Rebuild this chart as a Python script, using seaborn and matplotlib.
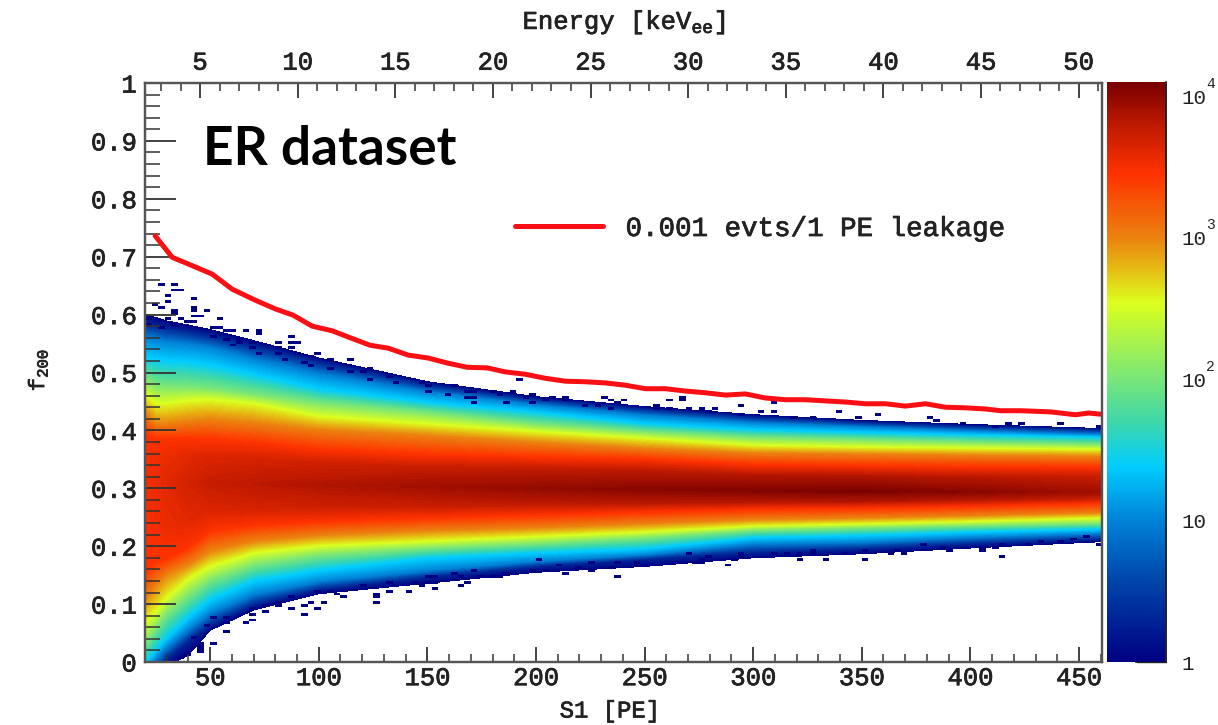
import numpy as np
import matplotlib
matplotlib.use("Agg")
import matplotlib.pyplot as plt
import matplotlib.patheffects as pe
import seaborn as sns
from matplotlib.colors import LinearSegmentedColormap, LogNorm, Normalize
from matplotlib.cm import ScalarMappable
from matplotlib.ticker import FixedLocator, NullFormatter

# ---- data ----
s1_knots = [20, 25, 30, 40, 50, 70, 100, 150, 200, 250, 300, 350, 400, 460]
# f200 position of each log10(count) contour at each S1 knot, bottom to top
lo_edge  = [-.07,-.04,-.008,.012,.055,.09,.118,.136,.155,.165,.18,.187,.197,.208]
lo_0p3   = [-.05,-.02,.006,.038,.065,.10,.126,.147,.165,.178,.19,.196,.205,.213]
lo_1p0   = [-.02,.008,.027,.058,.086,.118,.14,.159,.175,.186,.205,.208,.216,.223]
lo_1p4   = [.0,.022,.044,.08,.11,.142,.16,.181,.19,.197,.216,.22,.226,.231]
lo_2p0   = [.03,.06,.085,.116,.142,.168,.185,.197,.205,.215,.228,.232,.236,.24]
lo_2p54  = [.07,.09,.113,.146,.167,.19,.202,.21,.218,.226,.236,.24,.244,.25]
lo_3p0   = [.11,.135,.153,.17,.193,.21,.22,.228,.233,.24,.247,.25,.254,.259]
lo_3p45  = [.16,.176,.18,.2,.228,.238,.244,.25,.255,.26,.265,.267,.27,.275]
lo_shldr = [.22,.23,.232,.244,.261,.265,.268,.271,.273,.275,.277,.278,.28,.283]
peak_f   = [.31,.31,.31,.31,.31,.308,.305,.303,.30,.298,.296,.295,.294,.294]
up_shldr = [.358,.355,.355,.355,.354,.35,.342,.335,.332,.329,.322,.32,.319,.319]
up_3p45  = [.39,.385,.385,.385,.383,.378,.366,.357,.353,.349,.34,.338,.336,.335]
up_3p0   = [.43,.41,.41,.415,.418,.412,.40,.39,.378,.368,.36,.358,.356,.354]
up_2p54  = [.46,.445,.445,.45,.452,.445,.423,.41,.397,.385,.373,.37,.368,.366]
up_2p0   = [.49,.478,.476,.475,.472,.462,.447,.43,.41,.397,.387,.383,.379,.375]
up_1p4   = [.525,.52,.518,.516,.511,.495,.47,.447,.43,.41,.40,.395,.391,.387]
up_1p0   = [.56,.556,.552,.548,.542,.522,.497,.465,.443,.425,.412,.405,.398,.392]
up_0p3   = [.585,.58,.576,.57,.563,.545,.517,.478,.453,.436,.422,.413,.406,.40]
up_edge  = [.60,.595,.589,.582,.574,.555,.525,.484,.458,.441,.427,.417,.41,.403]
# log10(count) along the ridge and its shoulders
peak_log  = [3.5,3.55,3.6,3.68,3.75,3.8,3.85,3.92,3.98,4.02,4.05,4.08,4.02,3.92]
shldr_log = [3.48,3.51,3.55,3.6,3.64,3.67,3.71,3.75,3.78,3.81,3.83,3.85,3.81,3.75]

# isolated low-count cells beyond the solid band
speck_s1 = [28.5,34.5,32,35,31.5,31.5,41,24,28.5,33,43,48,41,34.5,31,41,46,55,61.5,67.5,73.5,71,86,82,88,91.5,69,88,80.5,
            113,124.5,104,98,91.5,163.6,193.5,168,172,190.5,199.7,181.7,194.3,208,214.3,232.7,241.9,214.3,235.8,268.8,
            262.6,268.8,255.7,255.7,262.6,234,223.5,169.7,170,283.4,295.7,310,338,309,327,302,
            46,46,46,46,52,58.4,40,67,70,74,68.4,94.5,88.4,92.2,100.7,97.6,103.7,125,125,125,140,
            238.8,214.3,218,179,182.8,175,187.4,169.7,166.7,152.8,148.2,154.4,199.7,205.8,226.5,235.8,253.4,247.3,264.2,
            274.9,238.8,166.7,163.6,151.3,287,321,332,350,413,314,341,362,389,410,404,404,460,322.5,328.7,368,308,277,291,295.7]
speck_f  = [.654,.654,.642,.642,.634,.622,.625,.618,.614,.608,.611,.608,.608,.603,.592,.596,.598,.592,.572,.572,.572,.566,.562,.553,.553,.553,.553,.543,.543,
            .523,.507,.521,.530,.530,.477,.487,.467,.467,.467,.464,.47,.459,.459,.459,.459,.454,.45,.454,.459,
            .454,.45,.444,.438,.439,.439,.444,.455,.447,.439,.444,.448,.434,.43,.424,.432,
            .032,.027,.022,.017,.032,.052,.012,.067,.072,.087,.081,.081,.093,.097,.093,.102,.102,.102,.116,.111,.121,
            .147,.153,.162,.147,.147,.147,.15,.137,.131,.126,.131,.139,.156,.159,.159,.163,.165,.168,.173,
            .174,.17,.145,.153,.145,.168,.177,.177,.177,.182,.185,.188,.188,.192,.197,.199,.194,.203,.188,.189,.189,.189,.173,.176,.182]
# cells forming the jagged rim of the band
rim_s1 = [22.4,22.4,28.5,33.1,37.7,40.8,43.9,51.5,54.6,57.7,51.5,56.1,63.8,64.6,59.2,68.4,73.8,81.5,83,91.5,97.6,92.2,97.6,105.3,113,119.1,123.7,131.4,136,146,149,
          36.2,42.3,48.5,51.5,57.7,57.7,68.4,74.6,80.7,82.2,86.8,100.7,105.3,108.3,111.4,119.1,131.4,131.4,143.7,149.8,
          278,295.7,317,347,358.6,380,385.5,397.8,410,416,423,440,458.4,
          278.8,294,328.7,352.5,367.8,377,386,414,425.4,431.5,440,447,454.6,
          146.7,151.3,160.5,171.3,182,186.6,198.9,205.8,229.6,238.8,269.5,277,
          152.8,171.3,200.4,211,226.5,246.5,271,275]
rim_f  = [.591,.582,.578,.580,.591,.588,.585,.578,.578,.573,.565,.559,.559,.550,.547,.542,.533,.530,.522,.530,.527,.516,.513,.507,.501,.501,.487,.493,.481,.484,.478,
          .009,.044,.061,.078,.067,.078,.093,.098,.101,.095,.113,.124,.124,.116,.113,.130,.136,.124,.136,.136,
          .432,.427,.421,.421,.427,.421,.418,.412,.409,.412,.412,.412,.406,
          .182,.185,.19,.193,.193,.205,.199,.205,.205,.208,.208,.214,.218,
          .481,.47,.461,.455,.461,.447,.447,.452,.441,.447,.435,.435,
          .147,.156,.176,.167,.173,.173,.185,.176]

leak_s1 = [24.7,32.5,40.8,50.9,60.1,70.7,79.9,88.2,97,106.2,114.5,123.7,132,141.2,150.4,159.6,168.4,177.6,185.9,195.1,204.3,213.5,
           222.7,232,241.2,250.4,259.6,268.8,278,287.2,296.4,305.6,314.9,324.1,333.3,342.5,351.7,360.9,370.1,379.3,388.6,397.8,
           407,413.9,423.1,436.9,448.4,454.4,460]
leak_f  = [.736,.699,.686,.670,.644,.625,.610,.599,.580,.572,.560,.547,.542,.530,.525,.516,.509,.508,.501,.497,.490,.485,
           .484,.482,.478,.472,.472,.468,.465,.461,.463,.456,.453,.453,.451,.449,.446,.446,.442,.446,.440,.439,
           .437,.434,.434,.432,.427,.430,.428]

s1_ticks = [50,100,150,200,250,300,350,400,450]
energy_ticks = [5,10,15,20,25,30,35,40,45,50]
f200_ticks = [0,.1,.2,.3,.4,.5,.6,.7,.8,.9,1]
f200_labels = ['0','0.1','0.2','0.3','0.4','0.5','0.6','0.7','0.8','0.9','1']
cb_ticks = [1, 10, 100, 1000, 10000]
cb_labels = ['1', '10', '10', '10', '10']
cb_powers = ['', '', '2', '3', '4']
cb_stops = [0,.58,1.0,1.38,1.69,2.0,2.54,2.77,3.0,3.45,3.8,4.1]
cb_cols = ['#000082','#0046aa','#0082d7','#00cdff','#3cd7aa','#78e678','#dcff1e','#e6be14','#eb820f','#ff3200','#be1900','#780000']

# ---- style ----
sns.set_style("white")
MONO = 'Liberation Mono'
plt.rcParams['font.family'] = [MONO, 'DejaVu Sans']
plt.rcParams['mathtext.fontset'] = 'custom'
plt.rcParams['mathtext.rm'] = MONO
INK = '#222222'
HEAVY = [pe.withStroke(linewidth=0.55, foreground=INK)]
W, H = 1218, 725
fig = plt.figure(figsize=(W/100, H/100), dpi=100)
L, R, T, B = 145, 1102, 83, 662
ax = fig.add_axes([L/W, 1-B/H, (R-L)/W, (B-T)/H])
cax = fig.add_axes([1107/W, 1-662/H, 59/W, 580/H])

cmap = LinearSegmentedColormap.from_list('er', [(s/4.1, c) for s, c in zip(cb_stops, cb_cols)], N=512)
norm = Normalize(0, 4.1)

# ---- main density ----
rows_f = [lo_edge, lo_0p3, lo_1p0, lo_1p4, lo_2p0, lo_2p54, lo_3p0, lo_3p45, lo_shldr, peak_f,
          up_shldr, up_3p45, up_3p0, up_2p54, up_2p0, up_1p4, up_1p0, up_0p3, up_edge]
n = len(s1_knots)
rows_z = [[-.01]*n, [.3]*n, [1.0]*n, [1.4]*n, [2.0]*n, [2.54]*n, [3.0]*n, [3.45]*n, shldr_log, peak_log,
          shldr_log, [3.45]*n, [3.0]*n, [2.54]*n, [2.0]*n, [1.4]*n, [1.0]*n, [.3]*n, [-.01]*n]
F = np.array(rows_f)
Z = np.array(rows_z)
X = np.tile(np.array(s1_knots, float), (F.shape[0], 1))
cs = ax.contourf(X, F, Z, levels=np.linspace(0, 4.1, 165), cmap=cmap, norm=norm, antialiased=False, zorder=1)
cs.set_edgecolor('face')
cs.set_linewidth(0.3)

# ---- isolated cells ----
xe = np.arange(20, 463, 3.0)
ye = np.arange(0, 1.0025, 0.005)
H2, _, _ = np.histogram2d(speck_s1 + rim_s1, speck_f + rim_f, bins=[xe, ye])
ax.pcolormesh(xe, ye, np.ma.masked_equal(H2.T, 0) * 0, cmap=cmap, norm=norm, zorder=2)

# ---- leakage line ----
sns.lineplot(x=leak_s1, y=leak_f, color='#fa0f14', lw=3.6, ax=ax, zorder=4,
             label='0.001 evts/1 PE leakage', errorbar=None, estimator=None, sort=False)
leg = ax.legend(loc='upper left', bbox_to_anchor=((515-L)/(R-L), 1-(216-T)/(B-T)), frameon=False,
                borderpad=0, borderaxespad=0, handlelength=3.2, handletextpad=0.82,
                prop={'family': MONO, 'size': 19.8})
for t in leg.get_texts():
    t.set_color(INK)
    t.set_path_effects(HEAVY)

# ---- axes ----
TC = '#333333'
ax.set_xlim(20, 460.6)
ax.set_ylim(0, 1)
ax.set_xlabel('')
ax.set_ylabel('')
ax.set_xticks(s1_ticks)
ax.set_xticklabels([str(v) for v in s1_ticks])
ax.xaxis.set_minor_locator(FixedLocator(np.arange(30, 461, 10)))
ax.set_yticks(f200_ticks)
ax.set_yticklabels(f200_labels)
ax.yaxis.set_minor_locator(FixedLocator(np.arange(0, 1.001, .02)))
ax.yaxis.set_minor_formatter(NullFormatter())
ax.tick_params(axis='x', which='major', direction='in', length=11, width=1.3, color=TC, labelsize=18.4, pad=3, bottom=True, labelcolor=INK)
ax.tick_params(axis='x', which='minor', direction='in', length=5.5, width=1.1, color=TC, bottom=True)
ax.tick_params(axis='y', which='major', direction='in', length=22, width=1.3, color=TC, labelsize=18.4, pad=6, left=True, labelcolor=INK)
ax.tick_params(axis='y', which='minor', direction='in', length=11, width=1.1, color=TC, left=True)
for lab in ax.get_xticklabels() + ax.get_yticklabels():
    lab.set_path_effects(HEAVY)
for s in ax.spines.values():
    s.set_color('#555555')
    s.set_linewidth(1.6)
    s.set_zorder(6)
ax.set_axisbelow(False)

top = ax.twiny()
top.set_xlim(2.18, 51.2)
top.set_xticks(energy_ticks)
top.set_xticklabels([str(v) for v in energy_ticks])
top.xaxis.set_minor_locator(FixedLocator(np.arange(3, 52, 1)))
top.grid(False)
top.tick_params(axis='x', which='major', direction='in', length=11, width=1.3, color=TC, labelsize=18.4, pad=6, top=True, labelcolor=INK)
top.tick_params(axis='x', which='minor', direction='in', length=5.5, width=1.1, color=TC, top=True)
for lab in top.get_xticklabels():
    lab.set_path_effects(HEAVY)
for s in top.spines.values():
    s.set_color('#555555')
    s.set_linewidth(1.6)

# ---- colour bar ----
sm = ScalarMappable(norm=LogNorm(1, 10**4.1), cmap=cmap)
cb = fig.colorbar(sm, cax=cax)
cb.outline.set_visible(False)
cax.axvline(1, color='#222222', lw=1.4, clip_on=False)
cax.axhline(1, color='#222222', lw=1.0, xmin=0.5, clip_on=False)
cax.yaxis.set_ticks_position('right')
cax.set_yticks(cb_ticks)
cax.set_yticklabels(cb_labels)
minor = [m*10**d for d in range(4) for m in range(2, 10)]
cax.yaxis.set_minor_locator(FixedLocator(minor))
cax.yaxis.set_minor_formatter(NullFormatter())
cax.tick_params(axis='y', which='major', direction='in', length=22, width=1.2, color='#222222', labelsize=15, pad=11, labelcolor=INK)
cax.tick_params(axis='y', which='minor', direction='in', length=11, width=1.2, color='#222222')
for tick, power in zip(cb_ticks, cb_powers):
    if power:
        cax.annotate(power, xy=(1, tick), xycoords=('axes fraction', 'data'), xytext=(29, 4),
                     textcoords='offset points', fontsize=10.5, color=INK, ha='left', va='bottom')

# ---- texts ----
fig.text(203/W, 1-165/H, 'ER dataset', fontfamily='Lato', fontweight='bold', fontsize=38.3, color='black', va='baseline', ha='left')
tx = fig.text(624/W, 1-22/H, r'Energy [keV$\mathrm{_{ee}}$]', fontsize=18.4, color=INK, ha='center', va='center')
ty = fig.text(610/W, 1-711/H, 'S1 [PE]', fontsize=17.2, color=INK, ha='center', va='center')
tz = fig.text(38/W, 1-370/H, r'f$\mathrm{_{200}}$', fontsize=16, color=INK, rotation=90, ha='center', va='center')
for t in (tx, ty, tz):
    t.set_path_effects(HEAVY)

fig.savefig('out.png', dpi=100)
